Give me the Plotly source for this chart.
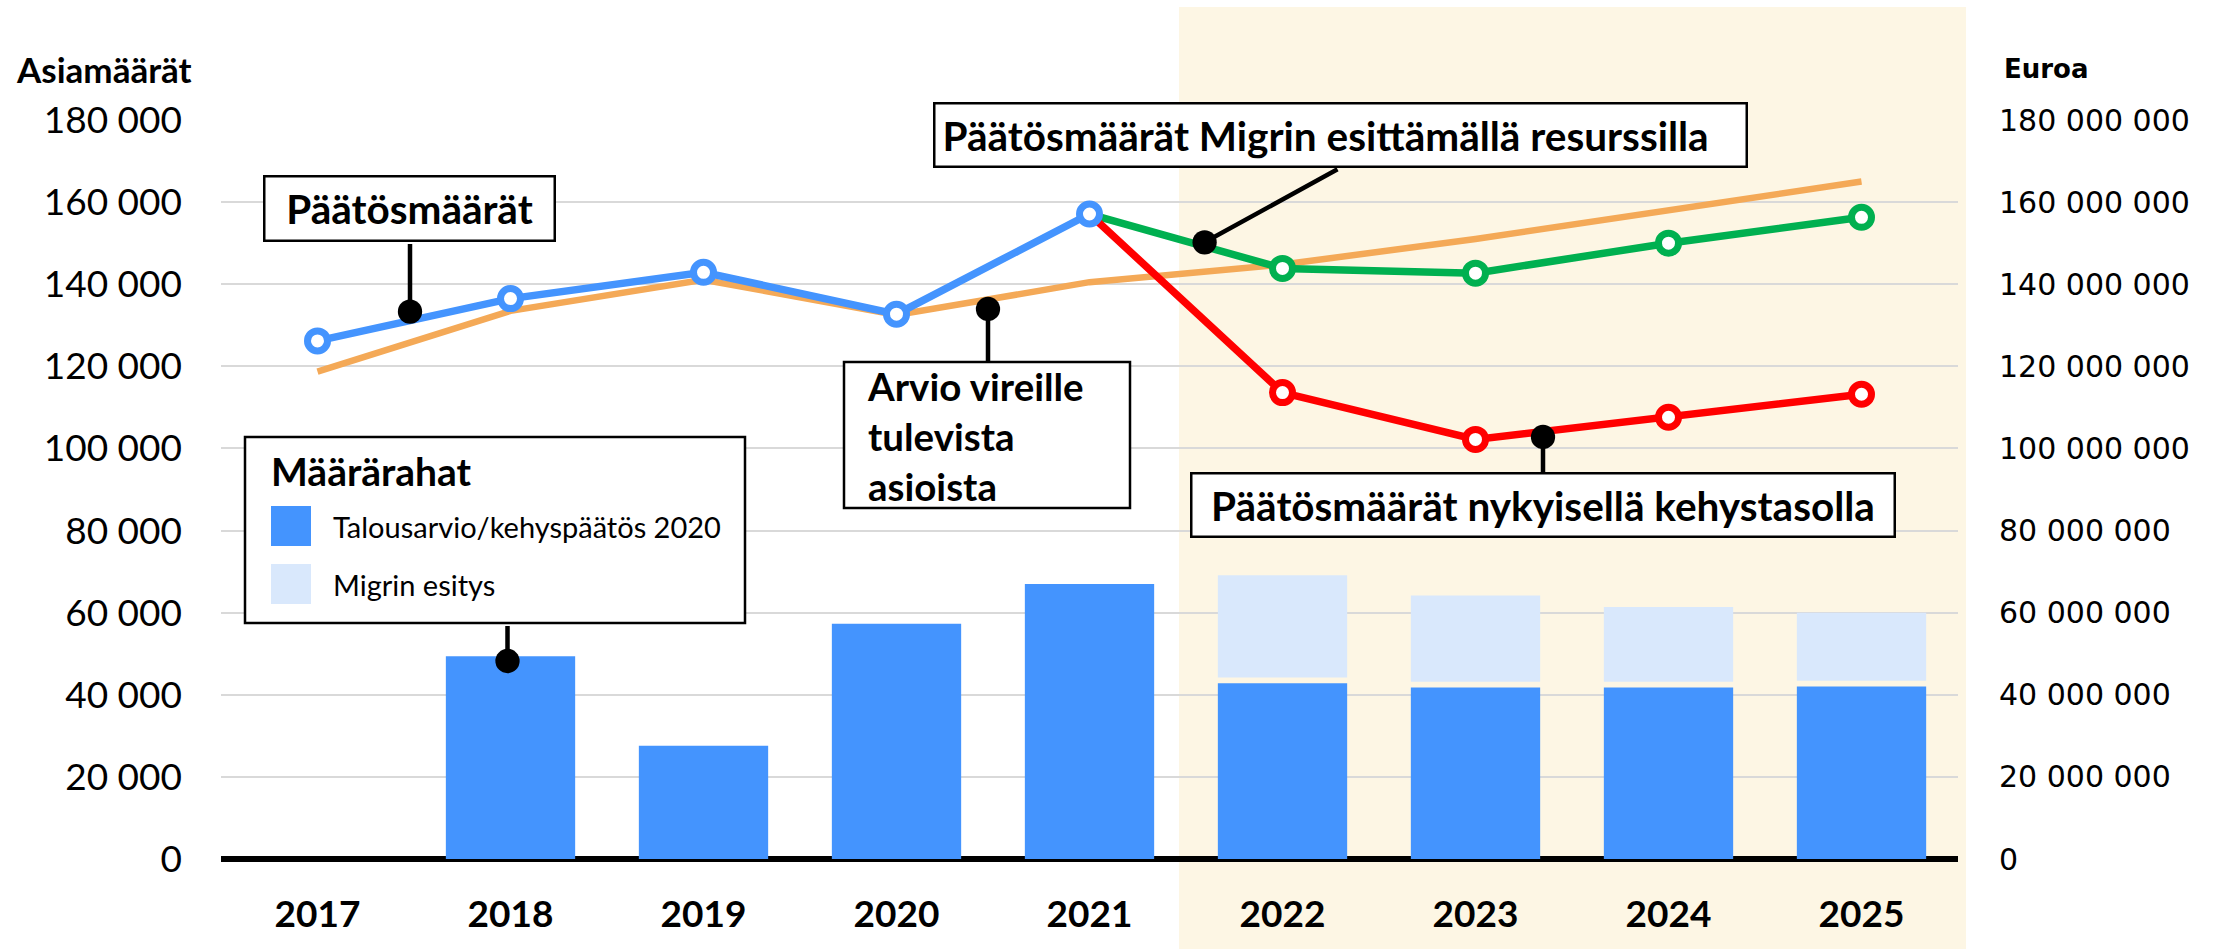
import plotly.graph_objects as go

# ---------------- data ----------------
years = ["2017", "2018", "2019", "2020", "2021", "2022", "2023", "2024", "2025"]
x_idx = list(range(len(years)))

# Päätösmäärät (toteutuneet) 2017–2021
decisions_years = ["2017", "2018", "2019", "2020", "2021"]
decisions = [126200, 136500, 142900, 132700, 157100]

# Päätösmäärät Migrin esittämällä resurssilla 2021–2025
forecast_years = ["2021", "2022", "2023", "2024", "2025"]
decisions_migri = [157100, 143850, 142700, 150000, 156300]
# Päätösmäärät nykyisellä kehystasolla 2021–2025
decisions_frame = [157100, 113600, 102200, 107600, 113200]

# Arvio vireille tulevista asioista 2017–2025
incoming = [118700, 133500, 141100, 132500, 140500, 144800, 151000, 158000, 165000]

# Määrärahat (euroa)
budget_years = ["2018", "2019", "2020", "2021", "2022", "2023", "2024", "2025"]
budget = [49.4e6, 27.6e6, 57.3e6, 67.0e6, 42.8e6, 41.8e6, 41.8e6, 42.0e6]
migri_years = ["2022", "2023", "2024", "2025"]
migri_total = [69.1e6, 64.2e6, 61.4e6, 60.0e6]

left_ticks = [0, 20000, 40000, 60000, 80000, 100000, 120000, 140000, 160000, 180000]
left_ticktext = ["0", "20 000", "40 000", "60 000", "80 000", "100 000", "120 000", "140 000", "160 000", "180 000"]
right_ticks = [v * 1000 for v in left_ticks]
right_ticktext = ["0", "20 000 000", "40 000 000", "60 000 000", "80 000 000", "100 000 000",
                  "120 000 000", "140 000 000", "160 000 000", "180 000 000"]

# ---------------- style ----------------
W, H = 2237, 949
L, R, T, B = 221, 1958, 120, 859
XR = (-0.5, 8.5)
YR = (0, 180000)
FONT = "Lato, 'Open Sans', sans-serif"
RFONT = "'DejaVu Sans', Verdana, sans-serif"
BLUE = "#4494FE"
LIGHT = "#D9E8FC"
ORANGE = "#F4A957"
GREEN = "#00B050"
RED = "#FF0000"
BEIGE = "#FDF6E4"
GAP = 1.4e6  # white gap between stacked bar parts
ANN = 40.5   # bold label font size
BW = 2.5


def pos(year):
    return years.index(year)


def dx(px):
    return XR[0] + (px - L) / (R - L) * (XR[1] - XR[0])


def dy(py):
    return YR[0] + (B - py) / (B - T) * (YR[1] - YR[0])


def pxp(px):
    return (px - L) / (R - L)


def pyp(py):
    return (B - py) / (B - T)


fig = go.Figure()

# bars (euros, right axis)
fig.add_trace(go.Bar(
    x=[pos(y) for y in budget_years], y=budget, yaxis="y2",
    marker=dict(color=BLUE, line=dict(width=0)), width=0.67,
    name="Talousarvio/kehyspäätös 2020", showlegend=False,
))
bud_map = dict(zip(budget_years, budget))
fig.add_trace(go.Bar(
    x=[pos(y) for y in migri_years],
    base=[bud_map[y] + GAP for y in migri_years],
    y=[t - bud_map[y] - GAP for y, t in zip(migri_years, migri_total)],
    yaxis="y2",
    marker=dict(color=LIGHT, line=dict(width=0)), width=0.67,
    name="Migrin esitys", showlegend=False,
))

# lines (left axis)
fig.add_trace(go.Scatter(
    x=x_idx, y=incoming, mode="lines",
    line=dict(color=ORANGE, width=6.5), showlegend=False,
    name="Arvio vireille tulevista asioista",
))
marker_op = [0, 1, 1, 1, 1]
fig.add_trace(go.Scatter(
    x=[pos(y) for y in forecast_years], y=decisions_migri, mode="lines+markers",
    line=dict(color=GREEN, width=7.5),
    marker=dict(size=20, color="white", opacity=marker_op, line=dict(color=GREEN, width=7)),
    showlegend=False, name="Päätösmäärät Migrin esittämällä resurssilla",
))
fig.add_trace(go.Scatter(
    x=[pos(y) for y in forecast_years], y=decisions_frame, mode="lines+markers",
    line=dict(color=RED, width=7.5),
    marker=dict(size=20, color="white", opacity=marker_op, line=dict(color=RED, width=7)),
    showlegend=False, name="Päätösmäärät nykyisellä kehystasolla",
))
fig.add_trace(go.Scatter(
    x=[pos(y) for y in decisions_years], y=decisions, mode="lines+markers",
    line=dict(color=BLUE, width=7.5),
    marker=dict(size=20, color="white", line=dict(color=BLUE, width=7)),
    showlegend=False, name="Päätösmäärät",
))

annotations = []
shapes = [
    dict(type="rect", xref="paper", yref="paper", x0=pxp(1179), x1=pxp(1966),
         y0=pyp(949), y1=pyp(7), fillcolor=BEIGE, line=dict(width=0), layer="below"),
]

# single-line text boxes: (text, left, top, right, bottom, align, pad)
boxes = [
    ("Päätösmäärät", 263, 175, 556, 242, "center", 0),
    ("Päätösmäärät Migrin esittämällä resurssilla", 933, 102, 1748, 168, "left", 7),
    ("Päätösmäärät nykyisellä kehystasolla", 1190, 472, 1896, 538, "center", 0),
]
for text, x0, y0, x1, y1, align, pad in boxes:
    annotations.append(dict(
        x=dx((x0 + x1) / 2), y=dy((y0 + y1) / 2), xref="x", yref="y",
        text=text, showarrow=False, align=align, valign="middle",
        width=(x1 - x0) - 2 * (BW + pad), height=(y1 - y0) - 2 * (BW + pad),
        bgcolor="white", bordercolor="black", borderwidth=BW, borderpad=pad,
        font=dict(family=FONT, size=ANN, color="black", weight="bold"),
        xanchor="center", yanchor="middle",
    ))

# multi-line box "Arvio vireille tulevista asioista"
shapes.append(dict(type="rect", xref="paper", yref="paper", x0=pxp(844), x1=pxp(1130),
                   y0=pyp(508), y1=pyp(362), fillcolor="white",
                   line=dict(color="black", width=BW), layer="above"))
annotations.append(dict(
    x=dx(866), y=dy(436), xref="x", yref="y",
    text="Arvio vireille<br>tulevista<br>asioista", showarrow=False, align="left",
    xanchor="left", yanchor="middle", borderpad=0,
    font=dict(family=FONT, size=38.5, color="black", weight="bold"),
))

# pointers: (head px x, head px y, tail px x, tail px y)
pointers = [
    (410, 311.7, 410, 243),
    (1204.6, 242.3, 1338, 169),
    (988, 309, 988, 362),
    (1543, 437, 1543, 473),
    (507.5, 661, 507.5, 625),
]
for hx, hy, tx, ty in pointers:
    annotations.append(dict(
        x=dx(hx), y=dy(hy), xref="x", yref="y", text=" ",
        showarrow=True, arrowhead=6, arrowsize=1.35, arrowwidth=4.5, arrowcolor="black",
        ax=tx - hx, ay=ty - hy, axref="pixel", ayref="pixel", borderpad=0,
        font=dict(size=1),
    ))

# legend (manual)
shapes.append(dict(type="rect", xref="paper", yref="paper", x0=pxp(245), x1=pxp(745),
                   y0=pyp(623), y1=pyp(437), fillcolor="white",
                   line=dict(color="black", width=BW), layer="above"))
annotations.append(dict(
    x=pxp(269), y=pyp(471), xref="paper", yref="paper", text="Määrärahat", showarrow=False,
    xanchor="left", yanchor="middle", font=dict(family=FONT, size=39, color="black", weight="bold"),
))
legend_items = [("Talousarvio/kehyspäätös 2020", BLUE, 506, 546),
                ("Migrin esitys", LIGHT, 564, 604)]
for text, col, t0, t1 in legend_items:
    shapes.append(dict(type="rect", xref="paper", yref="paper", x0=pxp(271), x1=pxp(311),
                       y0=pyp(t1), y1=pyp(t0), fillcolor=col, line=dict(width=0), layer="above"))
    annotations.append(dict(
        x=pxp(331), y=pyp((t0 + t1) / 2), xref="paper", yref="paper", text=text, showarrow=False,
        xanchor="left", yanchor="middle", font=dict(family=FONT, size=29, color="black"),
    ))

# axis titles
annotations.append(dict(
    x=pxp(14), y=pyp(69), xref="paper", yref="paper", text="Asiamäärät", showarrow=False,
    xanchor="left", yanchor="middle", font=dict(family=FONT, size=35, color="black", weight="bold"),
))
annotations.append(dict(
    x=pxp(2002), y=pyp(69), xref="paper", yref="paper", text="Euroa", showarrow=False,
    xanchor="left", yanchor="middle", font=dict(family=RFONT, size=26, color="black", weight="bold"),
))

fig.update_layout(
    width=W, height=H,
    margin=dict(l=L, r=W - R, t=T, b=H - B, pad=0),
    paper_bgcolor="white", plot_bgcolor="rgba(0,0,0,0)",
    barmode="overlay", showlegend=False,
    xaxis=dict(
        range=list(XR), tickmode="array", tickvals=x_idx, ticktext=years,
        showgrid=False, zeroline=False, showline=False, ticks="",
        tickfont=dict(family=FONT, size=37, color="black", weight="bold"),
        ticklabelstandoff=30, fixedrange=True,
    ),
    yaxis=dict(
        range=list(YR), tickmode="array", tickvals=left_ticks, ticktext=left_ticktext,
        showgrid=True, gridcolor="#D9D9D9", gridwidth=2,
        zeroline=True, zerolinecolor="black", zerolinewidth=6,
        showline=False, ticks="", ticklabelstandoff=38,
        tickfont=dict(family=FONT, size=37, color="black"),
    ),
    yaxis2=dict(
        range=[YR[0] * 1000, YR[1] * 1000], overlaying="y", side="right",
        tickmode="array", tickvals=right_ticks, ticktext=right_ticktext,
        showgrid=False, zeroline=False, showline=False, ticks="", ticklabelstandoff=40,
        tickfont=dict(family=RFONT, size=30, color="black"),
    ),
    shapes=shapes,
    annotations=annotations,
)

fig.write_html("out.html", config={"displayModeBar": False},
               post_script="document.body.style.margin='0px';")
